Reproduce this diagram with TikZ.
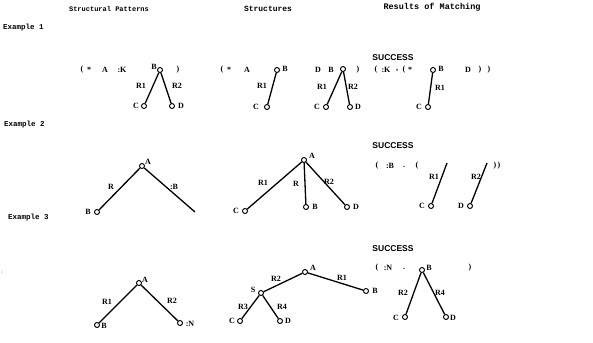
\documentclass[tikz,border=0pt]{standalone}
\usepackage{fontspec}
\setmainfont{Liberation Serif}
\setmonofont{Liberation Mono}
\setsansfont{Liberation Sans}
\begin{document}
\begin{tikzpicture}[x=1pt,y=-1pt,
 v/.style={circle,draw,inner sep=0pt,minimum size=5pt,line width=0.95pt},
 edge/.style={line width=1.3pt},
 lbl/.style={font=\fontsize{8}{9}\selectfont\bfseries,inner sep=0pt},
 hdr/.style={font=\fontsize{7.5}{8}\selectfont\ttfamily\bfseries,inner sep=0pt},
 exl/.style={font=\fontsize{7.5}{8}\selectfont\ttfamily\bfseries,inner sep=0pt,anchor=west},
 succ/.style={font=\fontsize{8.5}{9}\selectfont\sffamily\bfseries,inner sep=0pt}]
\useasboundingbox (0,0) rectangle (593,342);
% headers
\node[hdr,font=\fontsize{7}{8}\selectfont\ttfamily\bfseries] (h1) at (109,9) {Structural Patterns};
\node[hdr,font=\fontsize{8}{9}\selectfont\ttfamily\bfseries] (h2) at (268,9) {Structures};
\node[hdr,font=\fontsize{8.5}{9}\selectfont\ttfamily\bfseries] (h3) at (432,7) {Results of Matching};
\node[exl] (e1) at (3,28) {Example 1};
\node[exl] (e2) at (4,125) {Example 2};
\node[exl] (e3) at (8,218) {Example 3};
\node[lbl,font=\fontsize{5}{5}\selectfont] (mark) at (2,272) {:};
% ===== Example 1 pattern
\node[lbl] (p1o) at (82,70) {(};
\node[lbl] (p1s) at (89,70) {*};
\node[lbl] (p1A) at (105,70) {A};
\node[lbl] (p1K) at (122,70) {:K};
\node[v] (p1B) at (160,70) {};
\node[lbl] (p1Bl) at (154,67) {B};
\node[lbl] (p1c) at (178,70) {)};
\node[v] (p1C) at (144,106) {};
\node[lbl] (p1Cl) at (136,106) {C};
\node[v] (p1D) at (172,106) {};
\node[lbl] (p1Dl) at (181,106) {D};
\draw[edge] (p1B) -- (p1C);
\draw[edge] (p1B) -- (p1D);
\node[lbl] (p1r1) at (141,86) {R1};
\node[lbl] (p1r2) at (177,86) {R2};
% ===== Example 1 structures
\node[lbl] (s1o) at (222,70) {(};
\node[lbl] (s1s) at (229,70) {*};
\node[lbl] (s1A) at (247,70) {A};
\node[v] (s1B) at (277,70) {};
\node[lbl] (s1Bl) at (285,69) {B};
\node[v] (s1C) at (267,107) {};
\node[lbl] (s1Cl) at (256,107) {C};
\draw[edge] (s1B) -- (s1C);
\node[lbl] (s1r1) at (262,86) {R1};
\node[lbl] (s1D) at (318,70) {D};
\node[lbl] (s1B2l) at (331,70) {B};
\node[v] (s1B2) at (343,69) {};
\node[lbl] (s1c) at (358,70) {)};
\node[v] (s1C2) at (326,107) {};
\node[lbl] (s1C2l) at (317,107) {C};
\node[v] (s1D2) at (350,107) {};
\node[lbl] (s1D2l) at (358,107) {D};
\draw[edge] (s1B2) -- (s1C2);
\draw[edge] (s1B2) -- (s1D2);
\node[lbl] (s1r1b) at (322,87) {R1};
\node[lbl] (s1r2b) at (353,87) {R2};
% ===== Example 1 result
\node[succ] (r1s) at (393,58) {SUCCESS};
\node[lbl] (r1o) at (376,70) {(};
\node[lbl] (r1K) at (386,70) {:K};
\node[lbl] (r1cm) at (397,71) {,};
\node[lbl] (r1o2) at (404,70) {(};
\node[lbl] (r1st) at (410,70) {*};
\node[v] (r1B) at (433,70) {};
\node[lbl] (r1Bl) at (441,69) {B};
\node[lbl] (r1D) at (468,70) {D};
\node[lbl] (r1c1) at (480,70) {)};
\node[lbl] (r1c2) at (489,70) {)};
\node[v] (r1C) at (428,107) {};
\node[lbl] (r1Cl) at (419,107) {C};
\draw[edge] (r1B) -- (r1C);
\node[lbl] (r1r1) at (440,88) {R1};
% ===== Example 2 pattern
\node[v] (p2A) at (142,166) {};
\node[lbl] (p2Al) at (148,162) {A};
\node[v] (p2B) at (97,212) {};
\node[lbl] (p2Bl) at (88,212) {B};
\coordinate (p2E) at (195,212);
\draw[edge] (p2A) -- (p2B);
\draw[edge] (p2A) -- (p2E);
\node[lbl] (p2R) at (111,187) {R};
\node[lbl] (p2b) at (174,187) {:B};
% ===== Example 2 structure
\node[v] (s2A) at (304,160) {};
\node[lbl] (s2Al) at (312,156) {A};
\node[v] (s2C) at (245,211) {};
\node[lbl] (s2Cl) at (236,211) {C};
\node[v] (s2B) at (306,207) {};
\node[lbl] (s2Bl) at (315,207) {B};
\node[v] (s2D) at (347,207) {};
\node[lbl] (s2Dl) at (356,207) {D};
\draw[edge] (s2A) -- (s2C);
\draw[edge] (s2A) -- (s2B);
\draw[edge] (s2A) -- (s2D);
\node[lbl] (s2r1) at (263,183) {R1};
\node[lbl] (s2r) at (296,184) {R};
\node[lbl] (s2r2) at (329,182) {R2};
% ===== Example 2 result
\node[succ] (r2s) at (393,146) {SUCCESS};
\node[lbl] (r2o) at (377,166) {(};
\node[lbl] (r2B) at (390,166) {:B};
\node[lbl] (r2dot) at (404,167) {.};
\node[lbl] (r2o2) at (417,166) {(};
\coordinate (r2t1) at (447,163);
\node[v] (r2C) at (431,206) {};
\node[lbl] (r2Cl) at (422,206) {C};
\draw[edge] (r2t1) -- (r2C);
\node[lbl] (r2r1) at (434,177) {R1};
\coordinate (r2t2) at (487,163);
\node[v] (r2D) at (470,206) {};
\node[lbl] (r2Dl) at (461,206) {D};
\draw[edge] (r2t2) -- (r2D);
\node[lbl] (r2r2) at (476,177) {R2};
\node[lbl] (r2cc) at (497,166) {)\,)};
% ===== Example 3 pattern
\node[v] (p3A) at (139,283) {};
\node[lbl] (p3Al) at (145,280) {A};
\node[v] (p3B) at (97,325) {};
\node[lbl] (p3Bl) at (104,326) {B};
\node[v] (p3N) at (180,323) {};
\node[lbl] (p3Nl) at (190,324) {:N};
\draw[edge] (p3A) -- (p3B);
\draw[edge] (p3A) -- (p3N);
\node[lbl] (p3r1) at (107,302) {R1};
\node[lbl] (p3r2) at (172,301) {R2};
% ===== Example 3 structure
\node[v] (s3A) at (305,272) {};
\node[lbl] (s3Al) at (313,268) {A};
\node[v] (s3B) at (366,291) {};
\node[lbl] (s3Bl) at (375,291) {B};
\node[v] (s3S) at (261,293) {};
\node[lbl] (s3Sl) at (253,290) {S};
\node[v] (s3C) at (240,321) {};
\node[lbl] (s3Cl) at (232,321) {C};
\node[v] (s3D) at (280,321) {};
\node[lbl] (s3Dl) at (288,321) {D};
\draw[edge] (s3A) -- (s3B);
\draw[edge] (s3A) -- (s3S);
\draw[edge] (s3S) -- (s3C);
\draw[edge] (s3S) -- (s3D);
\node[lbl] (s3r2) at (276,279) {R2};
\node[lbl] (s3r1) at (342,278) {R1};
\node[lbl] (s3r3) at (243,307) {R3};
\node[lbl] (s3r4) at (282,307) {R4};
% ===== Example 3 result
\node[succ] (r3s) at (393,249) {SUCCESS};
\node[lbl] (r3o) at (377,268) {(};
\node[lbl] (r3N) at (388,268) {:N};
\node[lbl] (r3dot) at (404,269) {.};
\node[v] (r3B) at (422,270) {};
\node[lbl] (r3Bl) at (429,268) {B};
\node[lbl] (r3c) at (470,268) {)};
\node[v] (r3C) at (405,317) {};
\node[lbl] (r3Cl) at (396,318) {C};
\node[v] (r3D) at (446,317) {};
\node[lbl] (r3Dl) at (453,318) {D};
\draw[edge] (r3B) -- (r3C);
\draw[edge] (r3B) -- (r3D);
\node[lbl] (r3r2) at (403,293) {R2};
\node[lbl] (r3r4) at (440,293) {R4};
\end{tikzpicture}
\end{document}
